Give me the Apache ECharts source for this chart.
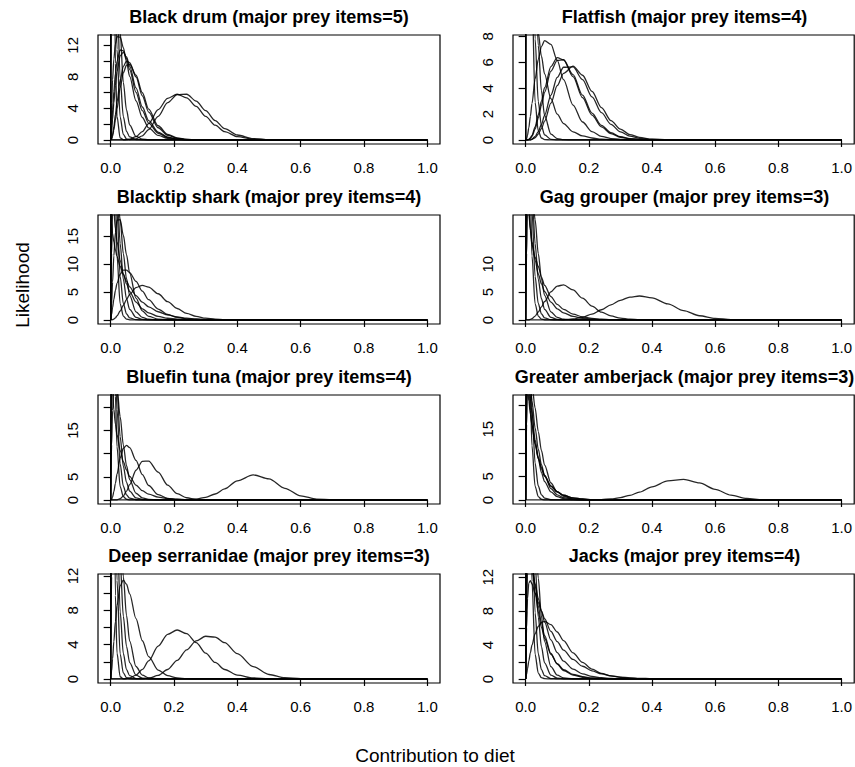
<!DOCTYPE html>
<html><head><meta charset="utf-8">
<script src="https://cdn.jsdelivr.net/npm/echarts@6/dist/echarts.min.js"></script>
<style>html,body{margin:0;padding:0;background:#fff}#chart{width:855px;height:767px}</style>
</head><body><div id="chart"></div>
<script>
// ---------- DATA ----------
const contributionGrid = [0,0.003,0.006,0.01,0.015,0.02,0.03,0.04,0.05,0.06,0.08,0.1,0.12,0.15,0.18,0.21,0.24,0.27,0.3,0.33,0.36,0.4,0.45,0.5,0.55,0.6,0.65,0.7,0.75,0.8,1];
const panelTitles = ['Black drum (major prey items=5)','Flatfish (major prey items=4)','Blacktip shark (major prey items=4)','Gag grouper (major prey items=3)','Bluefin tuna (major prey items=4)','Greater amberjack (major prey items=3)','Deep serranidae (major prey items=3)','Jacks (major prey items=4)'];
const likelihoodTop = [12.8,7.8,18.1,18.1,21.8,21.4,11.75,11.9];
const xTickValues = [0,0.2,0.4,0.6,0.8,1];
const yTickValues = [[0,2,4,6,8,10,12],[0,2,4,6,8],[0,5,10,15],[0,5,10,15],[0,5,10,15,20],[0,5,10,15,20],[0,2,4,6,8,10,12],[0,2,4,6,8,10,12]];
const yTickLabels = [[0,4,8,12],[0,2,4,6,8],[0,5,10,15],[0,5,10],[0,5,15],[0,5,15],[0,4,8,12],[0,4,8,12]];

// steep curves close to zero (clipped at the panel top)
const steepA = [0,83.6,65.6,42,22.4,11.5,2.9,0.7,0.15,0.03,0,0,0,0,0,0,0,0,0,0,0,0,0,0,0,0,0,0,0,0,0];
const steepB = [0,54.2,53.3,43.2,29.9,19.6,7.8,2.97,1.09,0.39,0.05,0.01,0,0,0,0,0,0,0,0,0,0,0,0,0,0,0,0,0,0,0];
const steepC = [0,29.9,35.7,35.2,30.1,24.0,13.7,7.3,3.8,1.9,0.45,0.1,0.02,0,0,0,0,0,0,0,0,0,0,0,0,0,0,0,0,0,0];
const steepD = [0,11.9,19.3,24.3,25.7,24.2,18.0,11.9,7.4,4.41,1.45,0.45,0.13,0.02,0,0,0,0,0,0,0,0,0,0,0,0,0,0,0,0,0];
const steepE = [0,2.88,6.8,11.5,15.7,17.9,18.0,15.2,11.7,8.4,3.9,1.64,0.65,0.15,0.03,0,0,0,0,0,0,0,0,0,0,0,0,0,0,0,0];
const steepF = [0,121,70,30,9.7,3.0,0.26,0.02,0,0,0,0,0,0,0,0,0,0,0,0,0,0,0,0,0,0,0,0,0,0,0];
const heavyA = [0,28.5,23.4,19.6,16.4,14.1,10.7,8.27,6.47,5.1,3.2,2.0,1.27,0.63,0.31,0.15,0.07,0.03,0.015,0.005,0,0,0,0,0,0,0,0,0,0,0];
const heavyB = [0,17.3,15.5,14.0,12.6,11.4,9.6,8.16,6.96,5.95,4.37,3.21,2.36,1.47,0.91,0.55,0.32,0.19,0.11,0.06,0.03,0.01,0,0,0,0,0,0,0,0,0];

const blackDrumCurves = [
  [0,0,0,0,0,0,0,0,0.04,0.1,0.42,1.07,2.07,3.85,5.28,5.8,5.34,4.25,2.99,1.87,1.05,0.42,0.1,0.02,0,0,0,0,0,0,0],
  [0,0,0,0,0,0,0,0,0.01,0.04,0.15,0.53,1.32,3.0,4.73,5.75,5.8,4.93,3.71,2.46,1.44,0.63,0.18,0.05,0.01,0,0,0,0,0,0],
  [0,0.19,0.69,1.69,3.23,4.83,7.58,9.32,10,9.82,7.99,5.6,3.54,1.55,0.6,0.21,0.07,0.02,0.01,0,0,0,0,0,0,0,0,0,0,0,0],
  [0,0.11,0.47,1.25,2.54,3.95,6.62,8.52,9.48,9.6,8.22,5.99,3.92,1.8,0.71,0.26,0.08,0.03,0.01,0,0,0,0,0,0,0,0,0,0,0,0],
  [0,1.85,3.83,6.15,8.41,9.97,11.41,11.3,10.31,8.93,6.03,3.71,2.14,0.85,0.31,0.1,0.03,0.01,0,0,0,0,0,0,0,0,0,0,0,0,0],
  [0,1.11,2.63,4.68,6.92,8.66,10.67,11.1,10.52,9.37,6.6,4.18,2.46,1.0,0.37,0.12,0.04,0.01,0,0,0,0,0,0,0,0,0,0,0,0,0],
  [0,4.69,7.62,10.26,12.19,13.09,13.04,11.71,9.91,8.07,4.96,2.85,1.54,0.57,0.2,0.07,0.02,0,0,0,0,0,0,0,0,0,0,0,0,0,0],
  steepA, steepB, steepF, steepC
];
const flatfishCurves = [
  [0,0.1,0.38,0.94,1.83,2.81,4.72,6.23,7.22,7.68,7.38,6.15,4.66,2.7,1.39,0.65,0.28,0.11,0.04,0.015,0,0,0,0,0,0,0,0,0,0,0],
  [0,0,0,0.05,0.16,0.36,1.01,1.94,3.0,4.04,5.67,6.37,6.19,4.89,3.27,1.92,1.01,0.49,0.21,0.09,0.03,0.01,0,0,0,0,0,0,0,0,0],
  [0,0,0,0.03,0.12,0.28,0.84,1.68,2.68,3.68,5.32,6.15,6.2,5.05,3.47,2.08,1.13,0.56,0.25,0.11,0.04,0.01,0,0,0,0,0,0,0,0,0],
  [0,0,0,0,0,0.07,0.27,0.65,1.2,1.9,3.47,4.83,5.62,5.65,4.67,3.33,2.11,1.21,0.63,0.3,0.13,0.04,0.01,0,0,0,0,0,0,0,0],
  [0,0,0,0,0,0.04,0.17,0.45,0.88,1.45,2.85,4.2,5.15,5.7,5.0,3.75,2.5,1.5,0.83,0.42,0.2,0.06,0.015,0,0,0,0,0,0,0,0],
  steepA, steepB, steepC, heavyA
];
const blacktipCurves = [
  [0,0.01,0.05,0.16,0.39,0.72,1.61,2.63,3.66,4.57,5.81,6.2,5.89,4.7,3.28,2.06,1.19,0.64,0.32,0.15,0.06,0.02,0,0,0,0,0,0,0,0,0],
  [0,1.05,2.23,3.71,5.3,6.57,8.23,8.93,8.93,8.48,6.93,5.17,3.63,1.96,0.98,0.45,0.2,0.08,0.03,0.01,0,0,0,0,0,0,0,0,0,0,0],
  steepA, steepB, steepC, steepD, steepE, heavyA, heavyB
];
const gagCurves = [
  [0,0,0,0,0,0,0,0,0,0,0,0,0.04,0.18,0.49,1.05,1.83,2.71,3.53,4.1,4.3,3.97,2.89,1.67,0.76,0.27,0.07,0.01,0,0,0],
  [0,0,0,0.03,0.1,0.23,0.7,1.43,2.34,3.31,5.05,6.08,6.28,5.39,3.9,2.47,1.4,0.72,0.34,0.15,0.06,0.02,0,0,0,0,0,0,0,0,0],
  [0,30,24,19.5,16,13.5,11.2,9.6,7.7,6.2,4.2,2.8,1.9,1.05,0.55,0.28,0.14,0.07,0.03,0.01,0,0,0,0,0,0,0,0,0,0,0],
  steepA, steepB, steepC, steepD, heavyA
];
const bluefinCurves = [
  [0,0,0,0,0,0,0,0,0,0,0,0,0,0,0,0,0.05,0.19,0.56,1.29,2.41,4.14,5.4,4.55,2.52,0.89,0.19,0.02,0,0,0],
  [0,0,0,0,0,0.04,0.26,0.85,1.9,3.32,6.42,8.35,8.39,6.01,3.21,1.37,0.48,0.14,0.04,0,0,0,0,0,0,0,0,0,0,0,0],
  [0,0.15,0.65,1.77,3.6,5.58,9.05,11.16,11.8,11.3,8.55,5.47,3.12,1.14,0.36,0.1,0.03,0,0,0,0,0,0,0,0,0,0,0,0,0,0],
  steepA, steepB, steepC, steepD, heavyA
];
const amberjackCurves = [
  [0,0,0,0,0,0,0,0,0,0,0,0,0,0,0,0,0.08,0.22,0.5,0.98,1.67,2.79,4.03,4.37,3.61,2.24,1.02,0.32,0.06,0.01,0],
  [0,24,25.5,24.5,21.5,18.3,12.8,8.7,5.8,3.9,1.7,0.72,0.3,0.08,0.02,0,0,0,0,0,0,0,0,0,0,0,0,0,0,0,0],
  [0,22,26,26,24,21,15.3,10.8,7.5,5.2,2.4,1.1,0.5,0.15,0.04,0.01,0,0,0,0,0,0,0,0,0,0,0,0,0,0,0],
  [0,27,24,21,18.2,15.8,12,9.1,6.9,5.2,3.0,1.75,1.0,0.45,0.2,0.09,0.04,0.02,0,0,0,0,0,0,0,0,0,0,0,0,0],
  [0,16,23,26,26,24.5,19.5,14.5,10.5,7.4,3.6,1.7,0.78,0.25,0.08,0.02,0,0,0,0,0,0,0,0,0,0,0,0,0,0,0],
  [0,35,28,23,19,16,11.8,8.8,6.6,5.0,2.9,1.7,1.0,0.45,0.2,0.09,0.04,0.02,0,0,0,0,0,0,0,0,0,0,0,0,0],
  steepA, steepB
];
const deepSerranidaeCurves = [
  [0,0,0,0,0,0,0,0,0,0,0,0.03,0.1,0.41,1.1,2.16,3.39,4.43,4.97,4.86,4.23,2.94,1.44,0.52,0.14,0.03,0.01,0,0,0,0],
  [0,0,0,0,0,0,0,0,0.05,0.12,0.45,1.11,2.1,3.83,5.2,5.7,5.27,4.23,3.01,1.92,1.1,0.45,0.12,0.02,0,0,0,0,0,0,0],
  [0,0.92,2.34,4.35,6.67,8.54,10.84,11.5,11.03,9.9,7.03,4.45,2.61,1.04,0.38,0.12,0.04,0.01,0,0,0,0,0,0,0,0,0,0,0,0,0],
  steepA, steepB, steepF, steepC, steepD
];
const jacksCurves = [
  [0,0.56,1.23,2.1,3.1,3.98,5.34,6.21,6.67,6.8,6.41,5.54,4.52,3.08,1.95,1.16,0.66,0.36,0.18,0.09,0.04,0.015,0,0,0,0,0,0,0,0,0],
  [0,6,9.5,11.3,11.6,11.2,10.1,9.0,8.0,7.1,5.6,4.4,3.4,2.3,1.5,0.95,0.6,0.37,0.22,0.13,0.08,0.03,0.01,0,0,0,0,0,0,0,0],
  [0,8,12.5,14,13.8,13,11.2,9.5,8.0,6.7,4.6,3.1,2.1,1.15,0.6,0.3,0.15,0.07,0.03,0.01,0,0,0,0,0,0,0,0,0,0,0],
  [0,12,16,16.5,15.5,14,11,8.6,6.6,5.1,3.0,1.75,1.0,0.45,0.2,0.08,0.03,0.01,0,0,0,0,0,0,0,0,0,0,0,0,0],
  [0,30,24,19.5,16,13.5,10.2,7.9,6.1,4.8,2.9,1.8,1.1,0.55,0.27,0.13,0.06,0.03,0.01,0,0,0,0,0,0,0,0,0,0,0,0],
  steepA, steepB, steepC, steepD
];
const panelCurves = [blackDrumCurves, flatfishCurves, blacktipCurves, gagCurves, bluefinCurves, amberjackCurves, deepSerranidaeCurves, jacksCurves];

// ---------- LAYOUT ----------
const FONT = '"Liberation Sans", Arial, Helvetica, sans-serif';
const colLeft = [98, 513];
const boxW = [342, 343];
const rowTop = [35, 215, 395, 574];
const boxH = 109;

const grids = [], xAxes = [], yAxes = [], series = [], graphics = [];
panelTitles.forEach((title, i) => {
  const r = Math.floor(i / 2), c = i % 2;
  const ymax = likelihoodTop[i];
  grids.push({left: colLeft[c], top: rowTop[r], width: boxW[c], height: boxH, show: true,
    borderColor: '#000', borderWidth: 1.2, backgroundColor: 'transparent', containLabel: false});
  xAxes.push({type: 'value', gridIndex: i, min: -0.04, max: 1.04,
    axisLine: {show: false}, splitLine: {show: false},
    axisTick: {show: true, length: 7, customValues: xTickValues, lineStyle: {color: '#000', width: 1.2}},
    axisLabel: {customValues: xTickValues, formatter: v => v.toFixed(1), color: '#000', fontSize: 15, fontFamily: FONT, margin: 16}});
  yAxes.push({type: 'value', gridIndex: i, min: -0.04 * ymax, max: 1.04 * ymax,
    axisLine: {show: false}, splitLine: {show: false},
    axisTick: {show: true, length: 7, customValues: yTickValues[i], lineStyle: {color: '#000', width: 1.2}},
    axisLabel: {customValues: yTickLabels[i], rotate: 90, formatter: v => String(v), color: '#000', fontSize: 15, fontFamily: FONT, margin: 18}});
  panelCurves[i].forEach(curve => {
    series.push({type: 'line', xAxisIndex: i, yAxisIndex: i, showSymbol: false, symbol: 'none',
      smooth: 0.3, smoothMonotone: 'x', clip: true, silent: true, animation: false,
      lineStyle: {color: 'rgba(0,0,0,0.85)', width: 1.3},
      data: contributionGrid.map((x, j) => [x, curve[j]])});
  });
  graphics.push({type: 'text', x: colLeft[c] + boxW[c] / 2, y: rowTop[r] - 18,
    style: {text: title, font: 'bold 18px ' + FONT, fill: '#000', textAlign: 'center', textVerticalAlign: 'middle'}});
});
graphics.push({type: 'text', x: 435, y: 755,
  style: {text: 'Contribution to diet', font: '19px ' + FONT, fill: '#000', textAlign: 'center', textVerticalAlign: 'middle'}});
graphics.push({type: 'text', x: 22, y: 285, rotation: Math.PI / 2,
  style: {text: 'Likelihood', font: '19px ' + FONT, fill: '#000', textAlign: 'center', textVerticalAlign: 'middle'}});

const chart = echarts.init(document.getElementById('chart'), null, {renderer: 'svg', width: 855, height: 767});
chart.setOption({animation: false, backgroundColor: '#fff', grid: grids, xAxis: xAxes, yAxis: yAxes, series: series, graphic: graphics});
</script></body></html>
